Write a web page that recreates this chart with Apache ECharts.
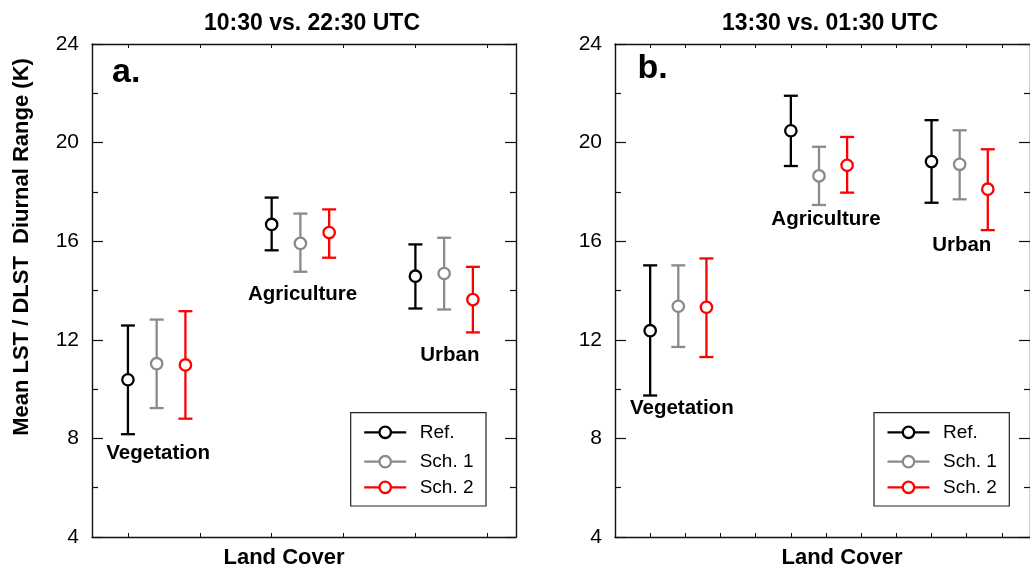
<!DOCTYPE html>
<html>
<head>
<meta charset="utf-8">
<script src="https://cdn.jsdelivr.net/npm/echarts@6/dist/echarts.min.js"></script>
<style>
  html, body { margin: 0; padding: 0; background: #fff; }
  #chart { width: 1030px; height: 570px; }
</style>
</head>
<body>
<div id="chart"></div>
<script>
// ---- data ----
const landCovers = ['Vegetation', 'Agriculture', 'Urban'];
const schemes = ['Ref.', 'Sch. 1', 'Sch. 2'];
const panelTitles = ['10:30 vs. 22:30 UTC', '13:30 vs. 01:30 UTC'];
const panelLetters = ['a.', 'b.'];
const yTickValues = [4, 8, 12, 16, 20, 24];

// Panel a: 10:30 vs. 22:30 UTC (mean, lower and upper bar ends, K)
const aRefMean  = [10.38, 16.68, 14.58];
const aRefLow   = [8.17, 15.63, 13.27];
const aRefHigh  = [12.58, 17.77, 15.87];
const aSch1Mean = [11.03, 15.91, 14.69];
const aSch1Low  = [9.23, 14.76, 13.23];
const aSch1High = [12.82, 17.12, 16.14];
const aSch2Mean = [10.98, 16.35, 13.63];
const aSch2Low  = [8.80, 15.33, 12.30];
const aSch2High = [13.16, 17.29, 14.96];

// Panel b: 13:30 vs. 01:30 UTC
const bRefMean  = [12.37, 20.48, 19.23];
const bRefLow   = [9.74, 19.05, 17.56];
const bRefHigh  = [15.02, 21.90, 20.91];
const bSch1Mean = [13.36, 18.65, 19.12];
const bSch1Low  = [11.71, 17.47, 17.70];
const bSch1High = [15.02, 19.83, 20.50];
const bSch2Mean = [13.32, 19.08, 18.11];
const bSch2Low  = [11.30, 17.97, 16.45];
const bSch2High = [15.30, 20.23, 19.73];

// ---- layout / style ----
const FONT = '"Liberation Sans", Arial, Helvetica, sans-serif';
const schemeColors = ['#000000', '#8a8a8a', '#ff0000'];
const groupCenters = [1, 3, 5];        // x position of each land cover group
const schemeOffsets = [0, 0.4, 0.8];   // shift of each scheme inside a group
const xMin = 0.5, xMax = 6.4;
const xTicksA = [1, 2, 3, 4, 5, 6];
const xTicksB = [1, 1.5, 2, 2.5, 3, 3.5, 4, 4.5, 5, 5.5, 6];
const grids = [
  { left: 92, top: 44, width: 424, height: 493 },
  { left: 615, top: 44, width: 424, height: 493 }
];
// where the land cover names sit, in data units
const nameAnchors = [
  [[1.42, 7.40], [3.43, 13.84], [5.48, 11.37]],
  [[1.45, 9.23], [3.50, 16.90], [5.43, 15.83]]
];

const panels = [
  { mean: [aRefMean, aSch1Mean, aSch2Mean], low: [aRefLow, aSch1Low, aSch2Low], high: [aRefHigh, aSch1High, aSch2High] },
  { mean: [bRefMean, bSch1Mean, bSch2Mean], low: [bRefLow, bSch1Low, bSch2Low], high: [bRefHigh, bSch1High, bSch2High] }
];

const axisLineStyle = { color: '#111', width: 1.4 };
const BAR_WIDTH = 2.3;
const MARK_R = 5.7;

function errorBarRenderer(color) {
  return function (params, api) {
    const x = api.value(0);
    const pM = api.coord([x, api.value(1)]);
    const pLo = api.coord([x, api.value(2)]);
    const pHi = api.coord([x, api.value(3)]);
    const cap = 7;
    const st = { stroke: color, lineWidth: BAR_WIDTH, fill: null };
    return {
      type: 'group',
      children: [
        { type: 'line', shape: { x1: pLo[0], y1: pLo[1], x2: pHi[0], y2: pHi[1] }, style: st },
        { type: 'line', shape: { x1: pLo[0] - cap, y1: pLo[1], x2: pLo[0] + cap, y2: pLo[1] }, style: st },
        { type: 'line', shape: { x1: pHi[0] - cap, y1: pHi[1], x2: pHi[0] + cap, y2: pHi[1] }, style: st },
        { type: 'circle', shape: { cx: pM[0], cy: pM[1], r: MARK_R }, style: { fill: '#fff', stroke: color, lineWidth: BAR_WIDTH } }
      ]
    };
  };
}

const xAxes = [], yAxes = [], series = [];
panels.forEach(function (panel, p) {
  const ticks = p === 0 ? xTicksA : xTicksB;
  // bottom and top x axes
  ['bottom', 'top'].forEach(function (pos) {
    xAxes.push({
      type: 'value', gridIndex: p, position: pos, min: xMin, max: xMax,
      axisLine: { show: true, onZero: false, lineStyle: axisLineStyle },
      axisTick: { show: true, inside: true, length: 4, customValues: ticks, lineStyle: { color: '#111', width: 1 } },
      axisLabel: { show: false },
      splitLine: { show: false }
    });
  });
  // left and right y axes
  ['left', 'right'].forEach(function (pos) {
    yAxes.push({
      type: 'value', gridIndex: p, position: pos, min: 4, max: 24, interval: 4,
      axisLine: { show: true, onZero: false, lineStyle: axisLineStyle },
      axisTick: { show: true, inside: true, length: 11, lineStyle: { color: '#111', width: 1.2 } },
      minorTick: { show: true, splitNumber: 2, length: 6, lineStyle: { color: '#111', width: 1.2 } },
      axisLabel: pos === 'left'
        ? { show: true, fontFamily: FONT, fontSize: 21, color: '#000', margin: 13,
            customValues: yTickValues, formatter: function (v) { return String(v); } }
        : { show: false },
      splitLine: { show: false }
    });
  });

  schemes.forEach(function (name, s) {
    const data = landCovers.map(function (lc, i) {
      return [groupCenters[i] + schemeOffsets[s], panel.mean[s][i], panel.low[s][i], panel.high[s][i]];
    });
    series.push({
      type: 'custom', name: name,
      xAxisIndex: p * 2, yAxisIndex: p * 2,
      renderItem: errorBarRenderer(schemeColors[s]),
      data: data, z: 10 + s, clip: false
    });
  });

  // land cover names
  series.push({
    type: 'custom', name: 'landcover-' + p,
    xAxisIndex: p * 2, yAxisIndex: p * 2,
    data: landCovers.map(function (lc, i) { return [nameAnchors[p][i][0], nameAnchors[p][i][1], lc]; }),
    renderItem: function (params, api) {
      const pt = api.coord([api.value(0), api.value(1)]);
      return {
        type: 'text', x: pt[0], y: pt[1],
        style: { text: landCovers[params.dataIndex], fontFamily: FONT, fontWeight: 'bold', fontSize: 20.5,
                 fill: '#000', align: 'center', verticalAlign: 'middle' }
      };
    },
    z: 20
  });
});

// titles, panel letters, axis names, legends
const graphics = [];
const titleCenters = [312, 830];
const coverCenters = [284, 842];
const letterPos = [[112, 73], [637.5, 69]];
const legendBoxes = [[350.7, 412.7], [874, 412.7]];
panels.forEach(function (panel, p) {
  graphics.push({
    type: 'text', x: titleCenters[p], y: 23.5, z: 50,
    style: { text: panelTitles[p], fontFamily: FONT, fontWeight: 'bold', fontSize: 23, fill: '#000',
             align: 'center', verticalAlign: 'middle' }
  });
  graphics.push({
    type: 'text', x: letterPos[p][0], y: letterPos[p][1], z: 50,
    style: { text: panelLetters[p], fontFamily: FONT, fontWeight: 'bold', fontSize: 34, fill: '#000',
             align: 'left', verticalAlign: 'middle' }
  });
  graphics.push({
    type: 'text', x: coverCenters[p], y: 558, z: 50,
    style: { text: 'Land Cover', fontFamily: FONT, fontWeight: 'bold', fontSize: 22, fill: '#000',
             align: 'center', verticalAlign: 'middle' }
  });
  const bx = legendBoxes[p][0], by = legendBoxes[p][1];
  const rowOffsets = [19.6, 49, 74.6];
  const children = [{
    type: 'rect', shape: { x: 0, y: 0, width: 135.3, height: 93.3 },
    style: { fill: '#fff', stroke: '#222', lineWidth: 1.2 }
  }];
  schemes.forEach(function (name, s) {
    const cy = rowOffsets[s];
    children.push({ type: 'line', shape: { x1: 13.5, y1: cy, x2: 55.5, y2: cy },
                    style: { stroke: schemeColors[s], lineWidth: BAR_WIDTH } });
    children.push({ type: 'circle', shape: { cx: 34.5, cy: cy, r: MARK_R },
                    style: { fill: '#fff', stroke: schemeColors[s], lineWidth: BAR_WIDTH } });
    children.push({ type: 'text', x: 69, y: cy,
                    style: { text: name, fontFamily: FONT, fontSize: 19, fill: '#000',
                             align: 'left', verticalAlign: 'middle' } });
  });
  graphics.push({ type: 'group', x: bx, y: by, z: 60, children: children });
});
graphics.push({
  type: 'text', x: 22, y: 247, rotation: Math.PI / 2, z: 50,
  style: { text: 'Mean LST / DLST  Diurnal Range (K)', fontFamily: FONT, fontWeight: 'bold', fontSize: 22,
           fill: '#000', align: 'center', verticalAlign: 'middle' }
});

const chart = echarts.init(document.getElementById('chart'), null, { renderer: 'canvas' });
chart.setOption({
  animation: false,
  backgroundColor: '#fff',
  grid: grids,
  xAxis: xAxes,
  yAxis: yAxes,
  series: series,
  graphic: graphics
});
</script>
</body>
</html>
